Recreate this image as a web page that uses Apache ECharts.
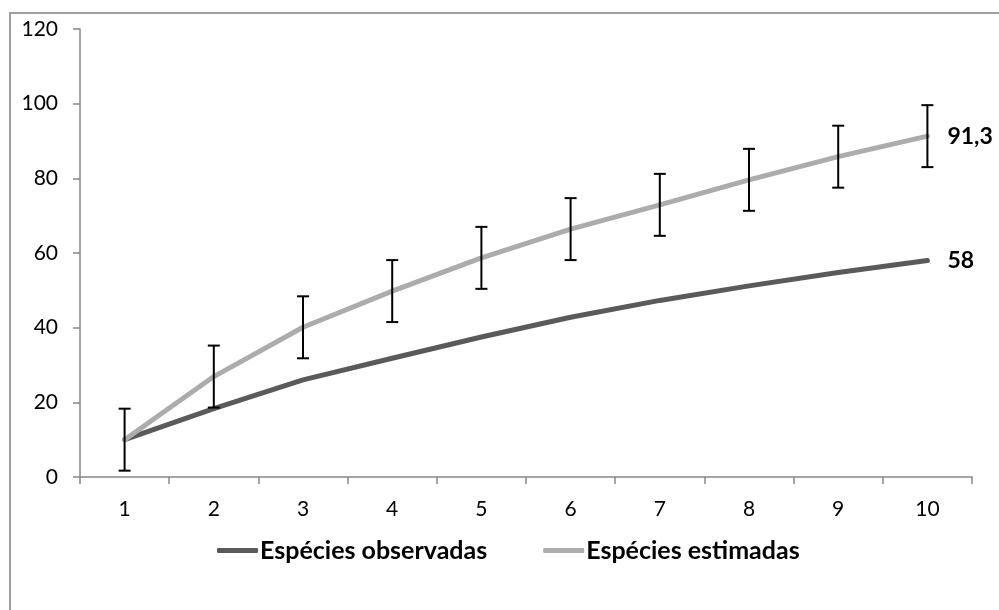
<!DOCTYPE html>
<html>
<head>
<meta charset="utf-8">
<script src="https://cdn.jsdelivr.net/npm/echarts@6/dist/echarts.min.js"></script>
<style>
  html, body { margin: 0; padding: 0; background: #fff; }
  #chart { width: 999px; height: 610px; }
</style>
</head>
<body>
<div id="chart"></div>
<script>
// Species accumulation: observed vs. estimated richness per sampling unit
const categories = ['1', '2', '3', '4', '5', '6', '7', '8', '9', '10'];
const observed = [10, 18.3, 26, 31.8, 37.5, 42.8, 47.3, 51.2, 54.8, 58];
const estimated = [10, 26.9, 40.1, 49.8, 58.7, 66.4, 72.9, 79.6, 85.8, 91.3];
const estimatedError = [8.3, 8.3, 8.3, 8.3, 8.3, 8.3, 8.3, 8.3, 8.3, 8.3];
const yTicks = { min: 0, max: 120, interval: 20 };

const FONT = 'Lato, "Noto Sans", sans-serif';
const AXIS_COLOR = '#878787';

const errorData = categories.map((c, i) => [i, estimated[i] - estimatedError[i], estimated[i] + estimatedError[i]]);

const endLabelStyle = {
  show: true,
  distance: 20,
  formatter: p => String(p.value).replace('.', ','),
  fontFamily: FONT, fontWeight: 'bold', fontSize: 23, color: '#000'
};

const chart = echarts.init(document.getElementById('chart'), null, { renderer: 'canvas' });

chart.setOption({
  animation: false,
  backgroundColor: '#ffffff',
  textStyle: { fontFamily: FONT },
  graphic: [{
    type: 'rect',
    shape: { x: 10, y: 13, width: 1100, height: 700 },
    style: { fill: 'none', stroke: '#a0a0a0', lineWidth: 2 },
    silent: true,
    z: -1
  }],
  grid: { left: 80, right: 27, top: 29, bottom: 133, containLabel: false },
  legend: {
    left: 212,
    top: 533,
    itemGap: 56,
    itemWidth: 41,
    itemHeight: 5,
    icon: 'roundRect',
    textStyle: { fontFamily: FONT, fontWeight: 'bold', fontSize: 25, color: '#000', padding: [0, 0, 0, -3] },
    data: ['Espécies observadas', 'Espécies estimadas']
  },
  xAxis: {
    type: 'category',
    data: categories,
    boundaryGap: true,
    axisLine: { lineStyle: { color: AXIS_COLOR, width: 1.5 } },
    axisTick: { show: true, length: 7, lineStyle: { color: AXIS_COLOR, width: 1.5 } },
    axisLabel: { margin: 22, fontSize: 21, color: '#000', fontFamily: FONT },
    splitLine: { show: false }
  },
  yAxis: {
    type: 'value',
    min: yTicks.min,
    max: yTicks.max,
    interval: yTicks.interval,
    axisLine: { show: true, lineStyle: { color: AXIS_COLOR, width: 1.5 } },
    axisTick: { show: true, length: 7, lineStyle: { color: AXIS_COLOR, width: 1.5 } },
    axisLabel: { margin: 22, fontSize: 21, color: '#000', fontFamily: FONT },
    splitLine: { show: false }
  },
  series: [
    {
      name: 'Espécies observadas',
      type: 'line',
      data: observed,
      symbol: 'none',
      color: '#5a5a5a',
      lineStyle: { color: '#5a5a5a', width: 5, cap: 'round', join: 'round' },
      endLabel: endLabelStyle,
      z: 2
    },
    {
      name: 'Espécies estimadas',
      type: 'line',
      data: estimated,
      symbol: 'none',
      color: '#acacac',
      lineStyle: { color: '#acacac', width: 5, cap: 'round', join: 'round' },
      endLabel: endLabelStyle,
      z: 3
    },
    {
      name: 'erro',
      type: 'custom',
      data: errorData,
      encode: { x: 0, y: [1, 2] },
      z: 5,
      renderItem: function (params, api) {
        const x = api.value(0);
        const low = api.coord([x, api.value(1)]);
        const high = api.coord([x, api.value(2)]);
        const half = 6;
        const style = { stroke: '#000', lineWidth: 2 };
        return {
          type: 'group',
          children: [
            { type: 'line', shape: { x1: low[0], y1: low[1], x2: high[0], y2: high[1] }, style },
            { type: 'line', shape: { x1: low[0] - half, y1: low[1], x2: low[0] + half, y2: low[1] }, style },
            { type: 'line', shape: { x1: high[0] - half, y1: high[1], x2: high[0] + half, y2: high[1] }, style }
          ]
        };
      }
    }
  ]
});
</script>
</body>
</html>
